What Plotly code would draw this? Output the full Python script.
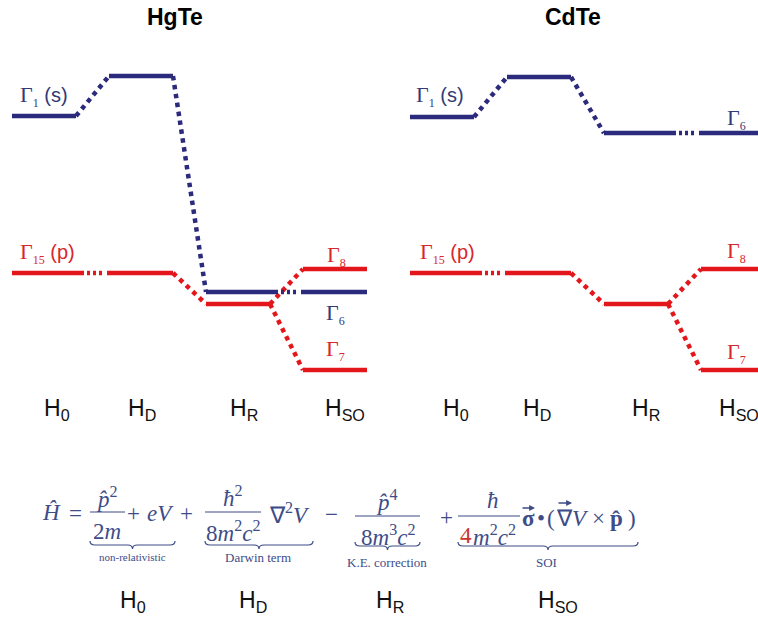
import plotly.graph_objects as go

W, H = 758, 621

# ---------------- data ----------------
stages = ["H<sub>0</sub>", "H<sub>D</sub>", "H<sub>R</sub>", "H<sub>SO</sub>"]
materials = ["HgTe", "CdTe"]

# energies (arb. units) of the s-like band at H0, HD, HR, HSO
hgte_s = [15.7, 19.7, -1.9, -1.9]
cdte_s = [15.6, 19.6, 14.0, 14.0]
# p-like band at H0, HD, HR
hgte_p = [0.0, 0.0, -3.1]
cdte_p = [0.0, 0.0, -3.1]
# spin-orbit split levels at HSO: Gamma8, Gamma7
hgte_so = [0.4, -9.7]
cdte_so = [0.4, -9.7]

s_idx = ["1", "6"]
p_idx = ["15", "8", "7"]
orbitals = ["(s)", "(p)"]

formula_terms = ["H<sub>0</sub>", "H<sub>D</sub>", "H<sub>R</sub>", "H<sub>SO</sub>"]
brace_labels = ["non-relativistic", "Darwin term", "K.E. correction", "SOI"]

# ---------------- style ----------------
BLUE = "#2b2a7c"
RED = "#e3171b"
LBLUE = "#333a78"
LRED = "#d9262a"
FCOL = "#3e4c88"
SERIF = "Liberation Serif, Times New Roman, serif"
SANS = "Liberation Sans, Arial, sans-serif"
DDD = "8px,3px,3px,3px,3px,3px,3px,5px"
HW = 0.33
LW = 4.5

fig = go.Figure()


def seg(xa, x0, x1, y0, y1, color, dash="solid"):
    fig.add_trace(go.Scatter(x=[x0, x1], y=[y0, y1], mode="lines", xaxis=xa, yaxis="y",
                             line=dict(color=color, width=LW, dash=dash),
                             hoverinfo="skip", showlegend=False))


panels = [("x", hgte_s, hgte_p, hgte_so), ("x2", cdte_s, cdte_p, cdte_so)]
s_conn = ["dot", "dot", DDD]
p_conn = [DDD, "dot"]

for xa, sv, pv, so in panels:
    # p band
    for i, e in enumerate(pv):
        seg(xa, i - HW, i + HW, e, e, RED)
    for i in range(len(pv) - 1):
        seg(xa, i + HW, i + 1 - HW, pv[i], pv[i + 1], RED, p_conn[i])
    for e in so:
        seg(xa, 3 - HW, 3 + HW, e, e, RED)
        seg(xa, 2 + HW, 3 - HW, pv[2], e, RED, "dot")
    # s band
    for i, e in enumerate(sv):
        seg(xa, i - HW, i + HW, e, e, BLUE)
    for i in range(len(sv) - 1):
        seg(xa, i + HW, i + 1 - HW, sv[i], sv[i + 1], BLUE, s_conn[i])

ann = []


def lab(xa, x, y, text, size, color, family, xs=0, ys=0):
    ann.append(dict(x=x, y=y, xref=xa, yref="y", text=text, showarrow=False,
                    font=dict(size=size, color=color, family=family),
                    xshift=xs, yshift=ys, xanchor="center", yanchor="middle"))


def sp(t):
    return "<span style='font-family:Liberation Sans;font-size:20px'>" + t + "</span>"


def gam(i):
    return "Γ<sub><span style='font-size:12px'>" + i + "</span></sub>"


GS = 22  # Gamma label size
# level labels
lab("x", 0, hgte_s[0], gam(s_idx[0]) + " " + sp(orbitals[0]), GS, LBLUE, SERIF, 0, 20)
lab("x", 0, hgte_p[0], gam(p_idx[0]) + " " + sp(orbitals[1]), GS, LRED, SERIF, 3, 20)
lab("x", 3, hgte_so[0], gam(p_idx[1]), GS, LRED, SERIF, 1, 13)
lab("x", 3, hgte_s[3], gam(s_idx[1]), GS, LBLUE, SERIF, 0, -22)
lab("x", 3, hgte_so[1], gam(p_idx[2]), GS, LRED, SERIF, 0, 20)

lab("x2", 0, cdte_s[0], gam(s_idx[0]) + " " + sp(orbitals[0]), GS, LBLUE, SERIF, -2, 21)
lab("x2", 3, cdte_s[3], gam(s_idx[1]), GS, LBLUE, SERIF, 3, 14)
lab("x2", 0, cdte_p[0], gam(p_idx[0]) + " " + sp(orbitals[1]), GS, LRED, SERIF, 5, 20)
lab("x2", 3, cdte_so[0], gam(p_idx[1]), GS, LRED, SERIF, 3, 17)
lab("x2", 3, cdte_so[1], gam(p_idx[2]), GS, LRED, SERIF, 3, 17)

# stage labels under each panel
stage_y = -13.6
offs = [[13, 1, 6, 10], [14, -2, 10, 6]]
for k, xa in enumerate(["x", "x2"]):
    for i, s in enumerate(stages):
        lab(xa, i, stage_y, s, 23, "#111111", SANS, offs[k][i], 0)

# titles
for k, xa in enumerate(["x", "x2"]):
    lab(xa, 1.35, 25.6, "<b>%s</b>" % materials[k], 23, "#000000", SANS, 0, 0)


def px(x):
    return x / W


def py(y):
    return 1 - y / H


def pa(x, y, text, size=23, color=FCOL, family=SERIF):
    ann.append(dict(x=px(x), y=py(y), xref="paper", yref="paper", text=text, showarrow=False,
                    font=dict(size=size, color=color, family=family),
                    xanchor="center", yanchor="middle"))


def vec_arrow(x0, x1, y):
    ann.append(dict(x=px(x1), y=py(y), xref="paper", yref="paper", text="",
                    showarrow=True, ax=x0 - x1, ay=0, axref="pixel", ayref="pixel",
                    arrowhead=2, arrowsize=0.9, arrowwidth=1.3, arrowcolor=FCOL,
                    standoff=0, startstandoff=0))


shapes = []


def bar(x0, x1, y):
    shapes.append(dict(type="line", xref="paper", yref="paper", x0=px(x0), x1=px(x1),
                       y0=py(y), y1=py(y), line=dict(color=FCOL, width=1.2)))


def brace(x0, x1, y0, h=8):
    xc = (x0 + x1) / 2
    ym = y0 + h / 2
    yb = y0 + h
    r = 5
    pts = [("M", x0, y0), ("Q", x0, ym, x0 + r, ym), ("L", xc - r, ym), ("Q", xc, ym, xc, yb),
           ("Q", xc, ym, xc + r, ym), ("L", x1 - r, ym), ("Q", x1, ym, x1, y0)]
    d = ""
    for p in pts:
        coords = p[1:]
        s = []
        for j in range(0, len(coords), 2):
            s.append("%.5f,%.5f" % (px(coords[j]), py(coords[j + 1])))
        d += p[0] + " " + " ".join(s) + " "
    shapes.append(dict(type="path", xref="paper", yref="paper", path=d,
                       line=dict(color=FCOL, width=1.2)))


HAT = "\u0302"
# formula
pa(51, 512, "<i>H" + HAT + "</i>")
pa(75, 513, "=")
pa(107, 497, "<i>p" + HAT + "</i><sup>2</sup>")
bar(90, 125, 512)
pa(107, 531, "2<i>m</i>")
pa(133, 513, "+")
pa(160, 513, "<i>eV</i>")
pa(186, 513, "+")
pa(233, 496, "<i>ħ</i><sup>2</sup>")
bar(205, 261, 512)
pa(233, 531, "8<i>m</i><sup>2</sup><i>c</i><sup>2</sup>")
pa(289, 513, "∇<sup>2</sup><i>V</i>")
pa(331, 514, "−")
pa(387, 500, "<i>p" + HAT + "</i><sup>4</sup>")
bar(355, 420, 516)
pa(388, 535, "8<i>m</i><sup>3</sup><i>c</i><sup>2</sup>")
pa(446, 517, "+")
pa(493, 500, "<i>ħ</i>")
bar(458, 520, 516)
pa(466, 535, "4", 23, "#c8332c")
pa(494, 535, "<i>m</i><sup>2</sup><i>c</i><sup>2</sup>")
# sigma . (nabla V x p)
pa(528, 518, "<b>σ</b>")
pa(541, 518, "•")
pa(551, 518, "(")
pa(564, 518, "∇")
pa(580, 518, "<i>V</i>")
pa(598, 518, "×")
pa(616, 518, "<b>p" + HAT + "</b>")
pa(632, 518, ")")
vec_arrow(521, 535, 508)
vec_arrow(557, 572, 503)

brace(90, 175, 541)
brace(205, 313, 541)
brace(355, 420, 542)
brace(458, 638, 542)
pa(132, 557, brace_labels[0], 11)
pa(258, 557, brace_labels[1], 13)
pa(387, 562, brace_labels[2], 13)
pa(546, 562, brace_labels[3], 13)

for x, t in zip([133, 253, 390, 558], formula_terms):
    pa(x, 601, t, 23, "#111111", SANS)

fig.update_layout(
    width=W, height=H, margin=dict(l=0, r=0, t=0, b=0),
    paper_bgcolor="white", plot_bgcolor="rgba(0,0,0,0)",
    xaxis=dict(domain=[0, 379 / W], range=[-44 / 97, (379 - 44) / 97], visible=False, fixedrange=True),
    xaxis2=dict(domain=[379 / W, 1], range=[(379 - 442) / 97, (758 - 442) / 97], visible=False,
                anchor="y", fixedrange=True),
    yaxis=dict(domain=[0, 1], range=[-34.8, 27.3], visible=False, fixedrange=True),
    annotations=ann, shapes=shapes, showlegend=False,
)

fig.write_html("out.html")
